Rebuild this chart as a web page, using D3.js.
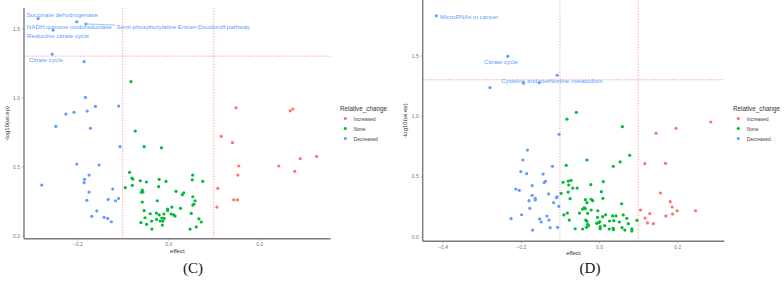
<!DOCTYPE html>
<html><head><meta charset="utf-8">
<script src="https://cdn.jsdelivr.net/npm/d3@7"></script>
<style>body{margin:0;background:#fff}svg{display:block}</style>
</head><body>
<svg id="chart" width="784" height="291"></svg>
<script>
// ---------- DATA ----------
const groups = ["Increased", "None", "Decreased"];
const groupColors = ["#F8766D", "#00BA38", "#619CFF"];
const xTicksC = [-0.2, 0.0, 0.2];
const xTicksD = [-0.4, -0.2, 0.0, 0.2];
const yTicks = [0.0, 0.5, 1.0, 1.5];
const effectCut = [-0.1, 0.1];
const pCut = 1.3;

// Panel C  [effect, -log10(wi.ep)]
const cDecreased = [[-0.286,1.573],[-0.201,1.549],[-0.181,1.533],[-0.253,1.489],[-0.255,1.315],[-0.185,1.26],[-0.182,1.001],[-0.160,0.936],[-0.109,0.938],[-0.178,0.902],[-0.207,0.893],[-0.225,0.880],[-0.247,0.791],[-0.171,0.777],[-0.106,0.644],[-0.278,0.366],[-0.201,0.518],[-0.152,0.511],[-0.174,0.438],[-0.184,0.407],[-0.185,0.383],[-0.174,0.315],[-0.122,0.337],[-0.109,0.269],[-0.132,0.262],[-0.116,0.252],[-0.179,0.255],[-0.157,0.178],[-0.168,0.139],[-0.141,0.132],[-0.133,0.124],[-0.125,0.100]];
const cNone = [[-0.082,1.115],[-0.0725,0.757],[-0.053,0.644],[-0.015,0.636],[-0.085,0.458],[-0.080,0.417],[-0.078,0.409],[-0.048,0.388],[-0.0615,0.397],[-0.079,0.364],[-0.0945,0.347],[-0.020,0.407],[-0.005,0.392],[-0.021,0.354],[-0.057,0.330],[-0.0556,0.315],[-0.059,0.313],[0.017,0.320],[0.034,0.310],[0.031,0.296],[0.0536,0.438],[0.0527,0.404],[0.054,0.281],[0.059,0.252],[0.054,0.221],[0.0565,0.228],[-0.024,0.252],[-0.057,0.243],[-0.053,0.180],[-0.0396,0.158],[-0.026,0.163],[-0.020,0.149],[-0.0095,0.156],[0.0066,0.156],[-0.0013,0.192],[-0.0013,0.182],[0.008,0.206],[0.027,0.197],[0.012,0.149],[0.015,0.141],[-0.051,0.129],[-0.0255,0.117],[-0.014,0.127],[-0.009,0.125],[-0.0176,0.105],[-0.0117,0.105],[-0.0365,0.105],[-0.060,0.093],[-0.0475,0.081],[-0.013,0.076],[-0.036,0.047],[0.0506,0.160],[0.048,0.047],[0.0616,0.062],[0.0675,0.120],[0.0756,0.393],[0.0726,0.098]];
const cIncreased = [[0.1165,0.719],[0.141,0.673],[0.155,0.504],[0.153,0.438],[0.109,0.342],[0.144,0.259],[0.152,0.259],[0.107,0.206],[0.243,0.504],[0.290,0.557],[0.278,0.465],[0.326,0.574],[0.149,0.926],[0.268,0.904],[0.274,0.917]];
const cLabelNames = ["Succinate dehydrogenase","NADH:quinone oxidoreductase","Semi-phosphorylative Entner-Doudoroff pathway","Reductive citrate cycle","Citrate cycle"];
const cLabelPoints = [[-0.286,1.573],[-0.253,1.489],[-0.181,1.533],[-0.201,1.549],[-0.255,1.315]];

// Panel D
const dDecreased = [[-0.416,1.829],[-0.2335,1.494],[-0.107,1.337],[-0.279,1.235],[-0.193,1.271],[-0.153,1.276],[-0.102,0.848],[-0.183,0.717],[-0.195,0.635],[-0.119,0.583],[-0.200,0.539],[-0.185,0.522],[-0.143,0.519],[-0.137,0.459],[-0.140,0.448],[-0.171,0.423],[-0.213,0.395],[-0.204,0.384],[-0.171,0.343],[-0.129,0.354],[-0.109,0.323],[-0.107,0.331],[-0.163,0.318],[-0.163,0.304],[-0.179,0.298],[-0.116,0.282],[-0.103,0.252],[-0.177,0.235],[-0.198,0.182],[-0.133,0.171],[-0.225,0.149],[-0.152,0.147],[-0.128,0.138],[-0.148,0.122],[-0.125,0.075],[-0.106,0.078],[-0.170,0.055]];
const dNone = [[-0.082,0.973],[-0.058,1.030],[0.0596,0.911],[-0.084,0.591],[-0.031,0.635],[-0.092,0.451],[-0.0785,0.461],[-0.0716,0.467],[-0.0775,0.428],[-0.056,0.403],[-0.067,0.403],[-0.079,0.370],[-0.097,0.359],[-0.021,0.431],[-0.074,0.315],[-0.035,0.307],[-0.031,0.282],[-0.020,0.310],[-0.016,0.298],[-0.038,0.240],[-0.042,0.229],[-0.035,0.232],[-0.050,0.196],[-0.020,0.221],[-0.029,0.194],[-0.081,0.196],[-0.090,0.180],[-0.076,0.138],[-0.034,0.138],[-0.031,0.128],[-0.029,0.103],[-0.027,0.092],[-0.032,0.078],[-0.061,0.066],[-0.042,0.064],[0.0785,0.674],[0.054,0.619],[0.0366,0.583],[0.011,0.456],[0.006,0.373],[0.010,0.318],[0.058,0.273],[-0.003,0.215],[0.017,0.182],[0.0094,0.166],[-0.004,0.161],[0.035,0.172],[0.0435,0.172],[0.062,0.180],[0.071,0.152],[0.097,0.136],[0.027,0.130],[0.038,0.133],[0.052,0.122],[0.002,0.124],[-0.001,0.116],[-0.006,0.111],[0.0146,0.091],[0.075,0.108],[0.003,0.083],[0.003,0.066],[0.026,0.064],[0.036,0.070],[0.037,0.058],[0.059,0.075],[0.066,0.055],[0.084,0.066],[0.084,0.047]];
const dIncreased = [[0.146,0.857],[0.197,0.898],[0.286,0.950],[0.117,0.605],[0.170,0.608],[0.157,0.362],[0.182,0.290],[0.187,0.246],[0.200,0.215],[0.188,0.188],[0.171,0.172],[0.247,0.215],[0.106,0.221],[0.130,0.191],[0.118,0.155],[0.124,0.114],[0.139,0.108]];
const dLabelNames = ["MicroRNAs in cancer","Citrate cycle","Cysteine and methionine metabolism"];
const dLabelPoints = [[-0.416,1.829],[-0.2335,1.494],[-0.107,1.337]];

// ---------- LAYOUT ----------
const panels = [
  {series:[cIncreased,cNone,cDecreased], xDom:[-0.317,0.357], xRange:[24,330.7], yDom:[-0.023,1.649], yRange:[238.7,8],
   xTicks:xTicksC, names:cLabelNames, pts:cLabelPoints,
   offs:[[-11.6,-4.3],[-26.3,-4],[30.7,2],[-49.7,14],[-23.3,5.5]], seg:[false,false,true,false,false],
   yTitleX:7, legX:340, legY:108, tag:"(C)", tagX:193},
  {series:[dIncreased,dNone,dDecreased], xDom:[-0.451,0.3205], xRange:[422.7,724.3], yDom:[-0.038,1.96], yRange:[241.3,0],
   xTicks:xTicksD, names:dLabelNames, pts:dLabelPoints,
   offs:[[3.7,0.7],[-23.7,5.4],[-56,5.7]], seg:[false,false,false],
   yTitleX:405, legX:733, legY:108, tag:"(D)", tagX:590}
];

const svg = d3.select("#chart");
const font = "'Liberation Sans', Arial, sans-serif";

panels.forEach(p => {
  const x = d3.scaleLinear().domain(p.xDom).range(p.xRange);
  const y = d3.scaleLinear().domain(p.yDom).range(p.yRange);
  const g = svg.append("g");

  // reference lines
  const refStyle = s => s.attr("stroke","#F8766D").attr("stroke-width",0.9).attr("stroke-dasharray","1.2,1.6").attr("opacity",0.8);
  effectCut.forEach(v => g.append("line").attr("x1",x(v)).attr("x2",x(v)).attr("y1",p.yRange[0]).attr("y2",p.yRange[1]).call(refStyle));
  g.append("line").attr("x1",p.xRange[0]).attr("x2",p.xRange[1]).attr("y1",y(pCut)).attr("y2",y(pCut)).call(refStyle);

  // axes
  const xAxis = d3.axisBottom(x).tickValues(p.xTicks).tickFormat(d3.format(".1f")).tickSize(2).tickPadding(2);
  const yAxis = d3.axisLeft(y).tickValues(yTicks).tickFormat(d3.format(".1f")).tickSize(2).tickPadding(2);
  const ax = g.append("g").attr("transform",`translate(0,${p.yRange[0]})`).call(xAxis);
  const ay = g.append("g").attr("transform",`translate(${p.xRange[0]},0)`).call(yAxis);
  [ax,ay].forEach(a => {
    a.select(".domain").attr("stroke","#7a7a7a").attr("stroke-width",1.4);
    a.selectAll(".tick line").attr("stroke","#888").attr("stroke-width",0.6);
    a.selectAll(".tick text").attr("fill","#777").style("font-family",font).style("font-size","5px");
  });
  ax.select(".domain").attr("d",`M${p.xRange[0]},0H${p.xRange[1]}`);
  ay.select(".domain").attr("d",`M0,${p.yRange[0]}V${p.yRange[1]}`);

  // axis titles
  g.append("text").attr("x",(p.xRange[0]+p.xRange[1])/2).attr("y",p.yRange[0]+14)
    .attr("text-anchor","middle").style("font-family",font).style("font-size","6px").attr("fill","#333").text("effect");
  g.append("text").attr("transform",`translate(${p.yTitleX},${(p.yRange[0]+p.yRange[1])/2}) rotate(-90)`)
    .attr("text-anchor","middle").attr("dominant-baseline","central").style("font-family",font).style("font-size","6px").attr("fill","#333").text("-log10(wi.ep)");

  // points
  p.series.forEach((s,i) => {
    g.append("g").selectAll("circle").data(s).join("circle")
      .attr("cx",d=>x(d[0])).attr("cy",d=>y(d[1])).attr("r",1.6).attr("fill",groupColors[i]);
  });

  // labels
  p.names.forEach((n,i) => {
    const px = x(p.pts[i][0]), py = y(p.pts[i][1]);
    const tx = px + p.offs[i][0], ty = py + p.offs[i][1];
    if (p.seg[i]) g.append("line").attr("x1",px).attr("y1",py).attr("x2",tx-1.5).attr("y2",ty-1).attr("stroke","#619CFF").attr("stroke-width",0.6);
    g.append("text").attr("x",tx).attr("y",ty).attr("dominant-baseline","central")
      .style("font-family",font).style("font-size","6.2px").attr("fill","#619CFF").text(n);
  });

  // legend
  const lg = g.append("g").attr("transform",`translate(${p.legX},${p.legY})`);
  lg.append("text").attr("x",0).attr("y",0).attr("dominant-baseline","central")
    .style("font-family",font).style("font-size","6.3px").attr("fill","#333").text("Relative_change");
  groups.forEach((gname,i) => {
    lg.append("circle").attr("cx",5.3).attr("cy",10.5+i*10).attr("r",1.6).attr("fill",groupColors[i]);
    lg.append("text").attr("x",13.7).attr("y",10.5+i*10).attr("dominant-baseline","central")
      .style("font-family",font).style("font-size","5px").attr("fill","#444").text(gname);
  });

  // panel tag
  svg.append("text").attr("x",p.tagX).attr("y",268).attr("text-anchor","middle").attr("dominant-baseline","central")
    .style("font-family","'Liberation Serif', 'Times New Roman', serif").style("font-size","15px").attr("fill","#111").text(p.tag);
});
</script>
</body></html>
